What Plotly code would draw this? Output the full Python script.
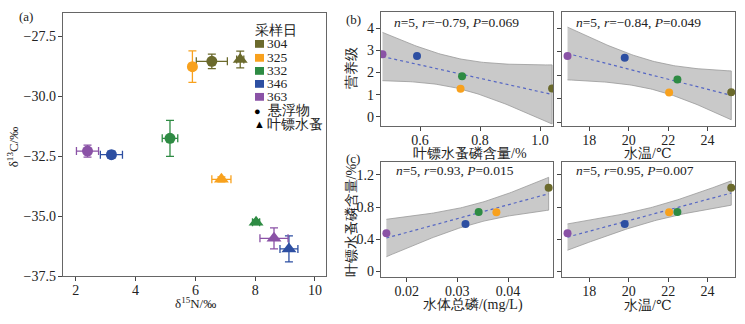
import numpy as np
import plotly.graph_objects as go

# ---------------- data ----------------
dates = ["304", "325", "332", "346", "363"]
colors = ["#6b6a2c", "#f8a11d", "#2e8b43", "#2d4fa2", "#8a52a6"]

# panel (a): suspended matter (circles) and Cyclops (triangles)
sus_n15 = [6.55, 5.90, 5.15, 3.19, 2.39]
sus_c13 = [-28.55, -28.77, -31.76, -32.44, -32.29]
sus_n15_err = [0.52, 0.10, 0.26, 0.37, 0.37]
sus_c13_err = [0.30, 0.66, 0.75, 0.15, 0.25]

cop_n15 = [7.50, 6.87, 8.03, 9.13, 8.63]
cop_c13 = [-28.47, -33.47, -35.26, -36.37, -35.93]
cop_n15_err = [0.12, 0.32, 0.12, 0.30, 0.47]
cop_c13_err = [0.35, 0.10, 0.10, 0.54, 0.44]

# panels (b),(c)
cop_tp = [1.04, 0.735, 0.74, 0.59, 0.475]      # 叶镖水蚤磷含量/%
trophic = [1.28, 1.27, 1.83, 2.75, 2.83]        # 营养级
water_temp = [25.2, 22.05, 22.47, 19.8, 16.9]   # 水温/℃
water_tp = [0.0480, 0.0377, 0.0342, 0.0316, 0.0160]  # 水体总磷/(mg/L)

stats_b1 = "<i>n</i>=5, <i>r</i>=−0.79, <i>P</i>=0.069"
stats_b2 = "<i>n</i>=5, <i>r</i>=−0.84, <i>P</i>=0.049"
stats_c1 = "<i>n</i>=5, <i>r</i>=0.93, <i>P</i>=0.015"
stats_c2 = "<i>n</i>=5, <i>r</i>=0.95, <i>P</i>=0.007"

W, H = 745, 324
FONT = "Times New Roman, Liberation Serif, Tinos, DejaVu Serif, serif"
AXC = "#666666"

fig = go.Figure()

def px(x):
    return x / W

def py(y):
    return 1 - y / H

# ---------------- panel (a) ----------------
for i, d in enumerate(dates):
    fig.add_trace(go.Scatter(
        x=[sus_n15[i]], y=[sus_c13[i]], mode="markers",
        marker=dict(symbol="circle", size=11, color=colors[i]),
        error_x=dict(type="data", array=[sus_n15_err[i]], color=colors[i], thickness=1.3, width=4),
        error_y=dict(type="data", array=[sus_c13_err[i]], color=colors[i], thickness=1.3, width=4),
        xaxis="x", yaxis="y", showlegend=False))
    fig.add_trace(go.Scatter(
        x=[cop_n15[i]], y=[cop_c13[i]], mode="markers",
        marker=dict(symbol="triangle-up", size=13, color=colors[i]),
        error_x=dict(type="data", array=[cop_n15_err[i]], color=colors[i], thickness=1.3, width=4),
        error_y=dict(type="data", array=[cop_c13_err[i]], color=colors[i], thickness=1.3, width=4),
        xaxis="x", yaxis="y", showlegend=False))

# ---------------- regression panels ----------------
T975_DF3 = 3.182

def reg_panel(xv, yv, xa, ya):
    xv = np.asarray(xv, float)
    yv = np.asarray(yv, float)
    n = len(xv)
    b, a = np.polyfit(xv, yv, 1)
    res = yv - (a + b * xv)
    s = np.sqrt(np.sum(res ** 2) / (n - 2))
    sxx = np.sum((xv - xv.mean()) ** 2)
    g = np.linspace(xv.min(), xv.max(), 80)
    fit = a + b * g
    half = T975_DF3 * s * np.sqrt(1 / n + (g - xv.mean()) ** 2 / sxx)
    fig.add_trace(go.Scatter(
        x=np.concatenate([g, g[::-1]]), y=np.concatenate([fit + half, (fit - half)[::-1]]),
        fill="toself", fillcolor="#c9c9c9", line=dict(color="#999999", width=0.8),
        mode="lines", xaxis=xa, yaxis=ya, showlegend=False, hoverinfo="skip"))
    fig.add_trace(go.Scatter(
        x=g, y=fit, mode="lines", line=dict(color="#5566c4", width=1.2, dash="dot"),
        xaxis=xa, yaxis=ya, showlegend=False))
    fig.add_trace(go.Scatter(
        x=xv, y=yv, mode="markers", marker=dict(size=8, color=colors),
        xaxis=xa, yaxis=ya, showlegend=False))

reg_panel(cop_tp, trophic, "x2", "y2")
reg_panel(water_temp, trophic, "x3", "y3")
reg_panel(water_tp, cop_tp, "x4", "y4")
reg_panel(water_temp, cop_tp, "x5", "y5")

# ---------------- axes ----------------
def ax(domain, rng, xaxis=True, **kw):
    d = dict(domain=domain, range=rng, showgrid=False, zeroline=False,
             showline=True, linecolor=AXC, linewidth=1.4, mirror=True,
             ticks="outside", ticklen=4, tickwidth=1.2, tickcolor="#444",
             ticklabelstandoff=-3 if xaxis else -1,
             tickfont=dict(family=FONT, size=14, color="#222"))
    d.update(kw)
    return d

xa_dom = [px(63), px(326)]
ya_dom = [py(283), py(13)]
xL = [px(381), px(553)]
xR = [px(562), px(735)]
yB = [py(129), py(12.7)]
yC = [py(284), py(166)]

fig.update_layout(
    xaxis=ax(xa_dom, [1.57, 10.37], anchor="y", tickvals=[2, 4, 6, 8, 10]),
    yaxis=ax(ya_dom, [-37.5, -26.52], False, anchor="x", tickvals=[-27.5, -30, -32.5, -35, -37.5],
             tickformat=".1f"),
    xaxis2=ax(xL, [0.47, 1.043], anchor="y2", tickvals=[0.6, 0.8, 1.0], tickformat=".1f"),
    yaxis2=ax(yB, [-0.41, 4.72], False, anchor="x2", tickvals=[0, 1, 2, 3, 4]),
    xaxis3=ax(xR, [16.62, 25.39], anchor="y3", tickvals=[18, 20, 22, 24]),
    yaxis3=ax(yB, [-0.15, 4.69], False, anchor="x3", tickvals=[0, 1, 2, 3, 4], showticklabels=False),
    xaxis4=ax(xL, [0.01494, 0.04886], anchor="y4", tickvals=[0.02, 0.03, 0.04],
              ticktext=["0.02", "0.03", "0.04"]),
    yaxis4=ax(yC, [-0.069, 1.361], False, anchor="x4", tickvals=[0, 0.4, 0.8, 1.2],
              ticktext=["0", "0.4", "0.8", "1.2"]),
    xaxis5=ax(xR, [16.62, 25.39], anchor="y5", tickvals=[18, 20, 22, 24]),
    yaxis5=ax(yC, [-0.069, 1.361], False, anchor="x5", tickvals=[0, 0.4, 0.8, 1.2], showticklabels=False),
)

# ---------------- annotations ----------------
ann = []

def txt(x, y, s, size=14, xanchor="center", angle=0, color="#222", yanchor="middle"):
    ann.append(dict(x=px(x), y=py(y), xref="paper", yref="paper", text=s, showarrow=False,
                    xanchor=xanchor, yanchor=yanchor, textangle=angle, borderpad=0,
                    font=dict(family=FONT, size=size, color=color)))

# panel labels
txt(18, 17, "(a)", 13, "left")
txt(345, 20, "(b)", 13, "left")
txt(345, 163, "(c)", 13, "left")

# axis titles (bottom-anchored at the lower edge of the text box)
txt(195, 320, "δ<sup>15</sup>N/‰", 13, yanchor="bottom")
txt(13, 150, "δ<sup>13</sup>C/‰", 13, angle=-90)
txt(470, 166, "叶镖水蚤磷含量/%", 14, yanchor="bottom")
txt(648, 166, "水温/℃", 14, yanchor="bottom")
txt(473, 322, "水体总磷/(mg/L)", 14, yanchor="bottom")
txt(648, 322, "水温/℃", 14, yanchor="bottom")
txt(351, 70, "营养级", 14, angle=-90)
txt(351, 226, "叶镖水蚤磷含量/%", 14, angle=-90)

# stats
txt(393, 23, stats_b1, 13.5, "left")
txt(575, 23, stats_b2, 13.5, "left")
txt(395, 175, stats_c1, 13.5, "left")
txt(575, 175, stats_c2, 13.5, "left")

# legend (panel a)
txt(254, 31, "采样日", 14, "left")
shapes = []
leg_y = [45, 59.3, 72.7, 86, 99.3]
for i, d in enumerate(dates):
    yc = leg_y[i]
    shapes.append(dict(type="rect", xref="paper", yref="paper",
                       x0=px(255), x1=px(264), y0=py(yc + 4), y1=py(yc - 4),
                       fillcolor=colors[i], line=dict(width=0)))
    txt(266, yc, d, 13.5, "left")
txt(253, 113.5, "●", 11, "left", color="#000")
txt(266, 113.5, "悬浮物", 13.5, "left")
txt(253, 127.5, "▲", 11, "left", color="#000")
txt(266, 127.5, "叶镖水蚤", 13.5, "left")

fig.update_layout(
    width=W, height=H, autosize=False,
    margin=dict(l=0, r=0, t=0, b=0),
    paper_bgcolor="white", plot_bgcolor="white",
    annotations=ann, shapes=shapes, showlegend=False,
    font=dict(family=FONT, size=14, color="#222"),
)

fig.write_html("out.html")
